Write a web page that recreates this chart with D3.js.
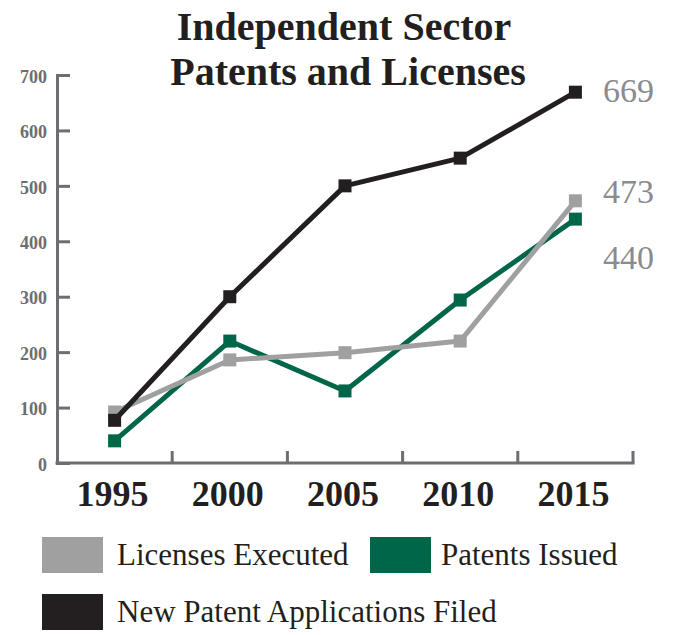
<!DOCTYPE html>
<html>
<head>
<meta charset="utf-8">
<script src="https://cdn.jsdelivr.net/npm/d3@7"></script>
<style>
  body { margin: 0; background: #fff; }
  svg { display: block; font-family: "Liberation Serif", "DejaVu Serif", serif; }
</style>
</head>
<body>
<div id="chart"></div>
<script>
// data
var years = ["1995", "2000", "2005", "2010", "2015"];
var licenses = [92, 186, 199, 220, 473];
var patents = [40, 220, 130, 294, 440];
var applications = [77, 300, 500, 550, 669];
var yTicks = [0, 100, 200, 300, 400, 500, 600, 700];
var endLabels = ["669", "473", "440"];

var width = 676, height = 635;

var svg = d3.select("#chart").append("svg")
    .attr("width", width)
    .attr("height", height);

// scales
var x = d3.scaleBand()
    .domain(years)
    .range([57, 633])
    .padding(0);
var y = d3.scaleLinear()
    .domain([0, 700])
    .range([463, 75]);

var axisColor = "#6d6e71";

// title
var title = svg.append("text")
    .attr("text-anchor", "middle")
    .attr("font-weight", "bold")
    .attr("font-size", 40)
    .attr("fill", "#231f20");
title.append("tspan").attr("x", 344).attr("y", 40).text("Independent Sector");
title.append("tspan").attr("x", 348).attr("y", 85).text("Patents and Licenses");

// y axis, ticks pointing inward
var yAxis = d3.axisLeft(y)
    .tickValues(yTicks)
    .tickSize(-13)
    .tickPadding(10);

var gy = svg.append("g")
    .attr("transform", "translate(57,0)")
    .call(yAxis);
gy.select(".domain").attr("stroke", axisColor).attr("stroke-width", 3);
gy.selectAll(".tick line").attr("stroke", axisColor).attr("stroke-width", 3);
gy.selectAll(".tick text")
    .attr("fill", axisColor)
    .attr("font-family", "Liberation Serif, serif")
    .attr("font-weight", "bold")
    .attr("font-size", 18)
    .attr("dy", "0.4em");

// x axis: labels at band centres, ticks on band edges
var xAxis = d3.axisBottom(x).tickSize(0).tickPadding(17);
var gx = svg.append("g")
    .attr("transform", "translate(0,463)")
    .call(xAxis);
gx.select(".domain").remove();
gx.selectAll(".tick text")
    .attr("fill", "#231f20")
    .attr("font-family", "Liberation Serif, serif")
    .attr("font-weight", "bold")
    .attr("font-size", 36)
    .attr("dx", "-2");

svg.append("line")
    .attr("x1", 55.5).attr("x2", x.range()[1] + 1.5)
    .attr("y1", 463).attr("y2", 463)
    .attr("stroke", axisColor)
    .attr("stroke-width", 3);

svg.selectAll(".xtick")
    .data(years)
  .enter().append("line")
    .attr("class", "xtick")
    .attr("x1", function(d) { return x(d) + x.bandwidth(); })
    .attr("x2", function(d) { return x(d) + x.bandwidth(); })
    .attr("y1", 463)
    .attr("y2", 451)
    .attr("stroke", axisColor)
    .attr("stroke-width", 3);

// series, drawn bottom to top
var series = [
  {name: "Patents Issued", values: patents, color: "#00664a"},
  {name: "Licenses Executed", values: licenses, color: "#a0a0a0"},
  {name: "New Patent Applications Filed", values: applications, color: "#231f20"}
];

var line = d3.line()
    .x(function(d, i) { return x(years[i]) + x.bandwidth() / 2; })
    .y(function(d) { return y(d); });

series.forEach(function(s) {
  svg.append("path")
      .datum(s.values)
      .attr("fill", "none")
      .attr("stroke", s.color)
      .attr("stroke-width", 5)
      .attr("stroke-linejoin", "round")
      .attr("d", line);

  svg.selectAll(null)
      .data(s.values)
    .enter().append("rect")
      .attr("x", function(d, i) { return x(years[i]) + x.bandwidth() / 2 - 6.5; })
      .attr("y", function(d) { return y(d) - 6.5; })
      .attr("width", 13)
      .attr("height", 13)
      .attr("fill", s.color);
});

// end value labels
var labelY = [102, 203, 269];
svg.selectAll(".endlabel")
    .data(endLabels)
  .enter().append("text")
    .attr("class", "endlabel")
    .attr("x", 603)
    .attr("y", function(d, i) { return labelY[i]; })
    .attr("font-size", 34)
    .attr("fill", "#8a8b8e")
    .text(function(d) { return d; });

// legend
var legend = [
  {name: "Licenses Executed", color: "#a0a0a0", x: 42, y: 537},
  {name: "Patents Issued", color: "#00664a", x: 370, y: 537},
  {name: "New Patent Applications Filed", color: "#231f20", x: 42, y: 594}
];

var lg = svg.selectAll(".legend")
    .data(legend)
  .enter().append("g")
    .attr("class", "legend")
    .attr("transform", function(d) { return "translate(" + d.x + "," + d.y + ")"; });

lg.append("rect")
    .attr("width", 61)
    .attr("height", 36)
    .attr("fill", function(d) { return d.color; });

lg.append("text")
    .attr("x", function(d) { return d.name == "Patents Issued" ? 71 : 75; })
    .attr("y", 28)
    .attr("font-size", 31)
    .attr("fill", "#231f20")
    .text(function(d) { return d.name; });
</script>
</body>
</html>
